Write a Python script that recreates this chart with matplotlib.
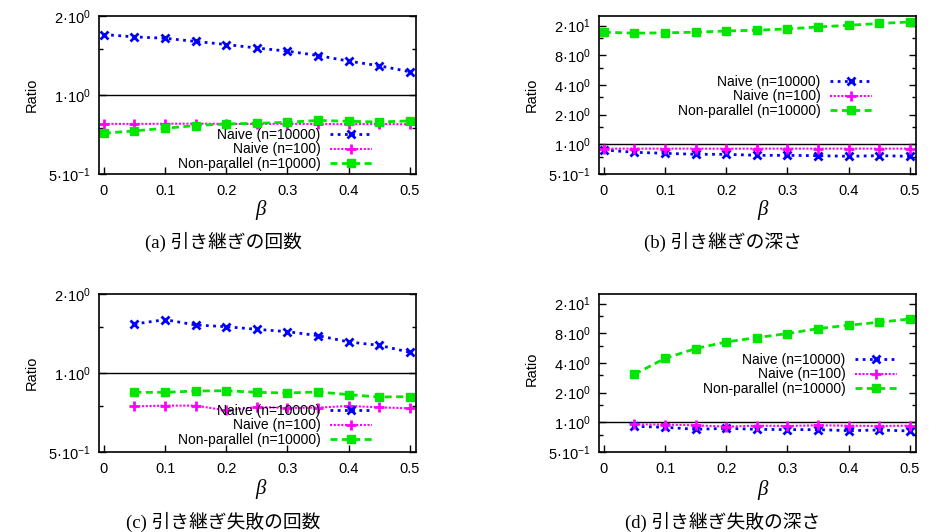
import matplotlib
matplotlib.use('Agg')
import matplotlib.pyplot as plt
from matplotlib.ticker import FixedLocator, NullFormatter

plt.rcParams['font.family'] = ['Liberation Sans', 'DejaVu Sans']
plt.rcParams['mathtext.default'] = 'regular'

# beta values
beta_all = [0.0, 0.05, 0.1, 0.15, 0.2, 0.25, 0.3, 0.35, 0.4, 0.45, 0.5]
beta_fail = [0.05, 0.1, 0.15, 0.2, 0.25, 0.3, 0.35, 0.4, 0.45, 0.5]

# (a) handover count
a_naive_10000 = [1.70, 1.665, 1.645, 1.60, 1.557, 1.51, 1.469, 1.414, 1.346, 1.292, 1.226]
a_naive_100 = [0.776, 0.776, 0.777, 0.778, 0.776, 0.776, 0.777, 0.775, 0.774, 0.775, 0.773]
a_nonpar = [0.715, 0.730, 0.747, 0.765, 0.776, 0.780, 0.787, 0.800, 0.794, 0.789, 0.797]

# (b) handover depth
b_naive_10000 = [0.876, 0.83, 0.81, 0.792, 0.792, 0.773, 0.773, 0.767, 0.756, 0.767, 0.756]
b_naive_100 = [0.904, 0.904, 0.904, 0.904, 0.903, 0.904, 0.904, 0.904, 0.904, 0.904, 0.904]
b_nonpar = [13.7, 13.4, 13.5, 13.7, 14.1, 14.35, 14.8, 15.5, 16.1, 16.8, 17.4]

# (c) failed handover count
c_naive_10000 = [1.537, 1.597, 1.524, 1.501, 1.467, 1.437, 1.388, 1.313, 1.275, 1.199]
c_naive_100 = [0.746, 0.751, 0.751, 0.720, 0.742, 0.736, 0.738, 0.749, 0.740, 0.733]
c_nonpar = [0.844, 0.844, 0.854, 0.856, 0.844, 0.839, 0.847, 0.827, 0.810, 0.813]

# (d) failed handover depth
d_naive_10000 = [0.911, 0.89, 0.849, 0.869, 0.849, 0.843, 0.843, 0.823, 0.836, 0.817]
d_naive_100 = [0.954, 0.947, 0.932, 0.904, 0.925, 0.918, 0.932, 0.925, 0.918, 0.925]
d_nonpar = [3.07, 4.46, 5.59, 6.53, 7.23, 7.94, 8.92, 9.65, 10.34, 11.18]

labels = ['Naive (n=10000)', 'Naive (n=100)', 'Non-parallel (n=10000)']
captions = ['(a) 引き継ぎの回数', '(b) 引き継ぎの深さ', '(c) 引き継ぎ失敗の回数', '(d) 引き継ぎ失敗の深さ']

small_ticks = [0.5, 1, 2]
small_ticklabels = ['5·10$^{-1}$', '1·10$^{0}$', '2·10$^{0}$']
big_ticks = [0.5, 1, 2, 4, 8, 16]
big_ticklabels = ['5·10$^{-1}$', '1·10$^{0}$', '2·10$^{0}$', '4·10$^{0}$', '8·10$^{0}$', '2·10$^{1}$']

W, H = 940, 532
fig = plt.figure(figsize=(9.4, 5.32), dpi=100)

def px_axes(left, right, top, bottom):
    return fig.add_axes([left / W, 1 - bottom / H, (right - left) / W, (bottom - top) / H])

panels = [
    dict(box=(99, 416, 16, 174), x=beta_all, ys=(a_naive_10000, a_naive_100, a_nonpar),
         ylim=(0.5, 2), ticks=small_ticks, tl=small_ticklabels, leg=(372, 128),
         cap=(223, 242), beta=(261, 210), ratio=(32, 95)),
    dict(box=(599, 916, 16, 174), x=beta_all, ys=(b_naive_10000, b_naive_100, b_nonpar),
         ylim=(0.5, 20), ticks=big_ticks, tl=big_ticklabels, leg=(872, 75),
         cap=(723, 242), beta=(763, 210), ratio=(532, 95)),
    dict(box=(99, 416, 294, 452), x=beta_fail, ys=(c_naive_10000, c_naive_100, c_nonpar),
         ylim=(0.5, 2), ticks=small_ticks, tl=small_ticklabels, leg=(372, 404),
         cap=(223, 522), beta=(261, 489), ratio=(32, 373)),
    dict(box=(599, 916, 294, 452), x=beta_fail, ys=(d_naive_10000, d_naive_100, d_nonpar),
         ylim=(0.5, 20), ticks=big_ticks, tl=big_ticklabels, leg=(897, 353),
         cap=(723, 522), beta=(763, 490), ratio=(532, 369)),
]

for p, cap in zip(panels, captions):
    ax = px_axes(*p['box'])
    ax.set_yscale('log')
    ax.axhline(1, color='black', lw=1.0, zorder=1)
    y1, y2, y3 = p['ys']
    ax.plot(p['x'], y1, color='#0000ff', ls=(0, (1, 1.6)), lw=2, marker='x', ms=5.5, mew=2,
            label=labels[0])
    ax.plot(p['x'], y2, color='#ff00ff', ls=(0, (1, 0.8)), lw=1.5, marker='+', ms=7, mew=2,
            label=labels[1])
    ax.plot(p['x'], y3, color='#00e600', ls=(0, (2.5, 1.6)), lw=2, marker='s', ms=5.5, mew=1,
            label=labels[2])
    ax.set_xlim(-0.008, 0.51)
    ax.set_ylim(*p['ylim'])
    ax.set_xticks([0, 0.1, 0.2, 0.3, 0.4, 0.5])
    ax.set_xticklabels(['0', '0.1', '0.2', '0.3', '0.4', '0.5'])
    ax.yaxis.set_major_locator(FixedLocator(p['ticks']))
    ax.set_yticklabels(p['tl'])
    ax.yaxis.set_minor_locator(FixedLocator([t * 1.5 for t in p['ticks']]))
    ax.yaxis.set_minor_formatter(NullFormatter())
    ax.tick_params(which='both', direction='in', right=True, top=False, labelsize=10.5)
    ax.tick_params(which='major', length=5, width=1)
    ax.tick_params(which='minor', length=3, width=1)
    ax.tick_params(axis='x', pad=7)
    ax.tick_params(axis='y', pad=6)
    for s in ax.spines.values():
        s.set_linewidth(1.2)
    lx, ly = p['leg']
    ax.legend(loc='upper right', bbox_to_anchor=(lx / W, 1 - ly / H),
              bbox_transform=fig.transFigure, markerfirst=False, frameon=False,
              borderpad=0, borderaxespad=0, handlelength=3.0, handletextpad=0.7,
              labelspacing=0.03, fontsize=10, numpoints=1)
    bx, by = p['beta']
    fig.text(bx / W, 1 - by / H, 'β', family='Liberation Serif', style='italic',
             fontsize=15, ha='center', va='center')
    rx, ry = p['ratio']
    fig.text(rx / W, 1 - ry / H, 'Ratio', rotation=90, fontsize=10.5, ha='center', va='center')
    cx, cy = p['cap']
    fig.text(cx / W, 1 - cy / H, cap, family=['Liberation Serif', 'Noto Sans CJK JP'],
             fontsize=13.5, ha='center', va='center')

plt.savefig('out.png', dpi=100)
